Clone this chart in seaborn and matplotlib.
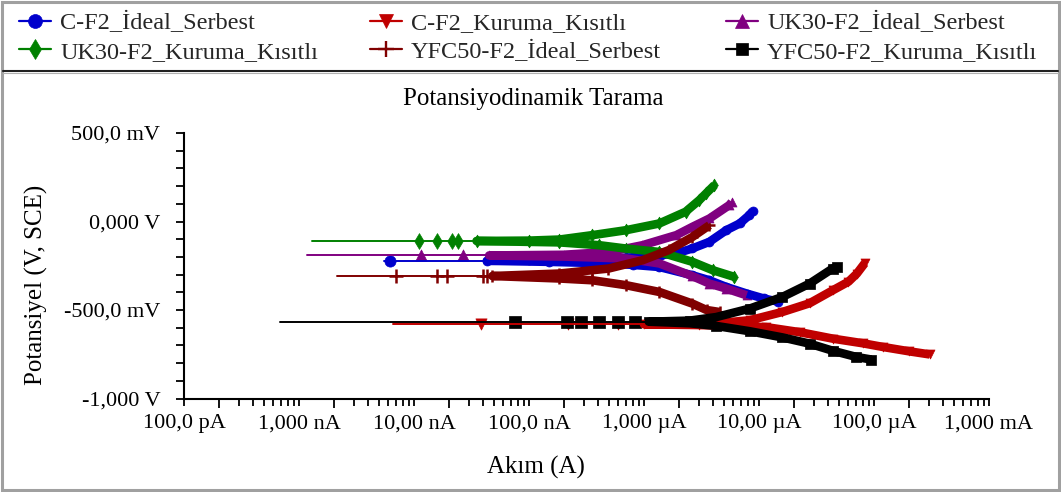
import matplotlib
matplotlib.use("Agg")
import matplotlib.pyplot as plt
import seaborn as sns
import pandas as pd
from matplotlib.ticker import FixedLocator, FuncFormatter, NullFormatter
from matplotlib.lines import Line2D
from matplotlib.patches import Rectangle

sns.set_theme(style="white")
plt.rcParams['font.family'] = ['Liberation Serif', 'DejaVu Serif']

# ---------------- data ----------------
series_names = ["C-F2_İdeal_Serbest", "C-F2_Kuruma_Kısıtlı", "UK30-F2_İdeal_Serbest",
                "UK30-F2_Kuruma_Kısıtlı", "YFC50-F2_İdeal_Serbest", "YFC50-F2_Kuruma_Kısıtlı"]
series_colors = ["#0000CC", "#C00000", "#800080", "#008000", "#800000", "#000000"]
series_markers = ["o", "v", "^", "d", "+", "s"]

# C-F2_İdeal_Serbest (blue)
cf2_is_ecorr = -0.222
cf2_is_tail_I = [5.5e-9, 6.2e-9]
cf2_is_cat_I = [4.3e-8, 1.5e-7, 4.0e-7, 8.0e-7, 1.36e-6, 2.64e-6, 3.7e-6, 5.2e-6, 7.8e-6, 1.1e-5, 1.45e-5]
cf2_is_cat_E = [-0.222, -0.228, -0.235, -0.245, -0.257, -0.304, -0.332, -0.370, -0.407, -0.435, -0.452]
cf2_is_an_I = [4.3e-8, 1.0e-7, 2.5e-7, 5.0e-7, 9.0e-7, 1.4e-6, 1.9e-6, 2.64e-6, 3.7e-6, 5.2e-6, 6.8e-6, 8.2e-6, 8.8e-6]
cf2_is_an_E = [-0.222, -0.220, -0.216, -0.210, -0.200, -0.190, -0.181, -0.152, -0.115, -0.049, -0.011, 0.035, 0.058]

# C-F2_Kuruma_Kısıtlı (red)
cf2_kk_ecorr = -0.581
cf2_kk_tail_I = [6.6e-9, 3.8e-8, 2.2e-7, 6.0e-7]
cf2_kk_cat_I = [1.0e-6, 3.0e-6, 6.0e-6, 1.16e-5, 2.25e-5, 4.4e-5, 8.0e-5, 1.2e-4, 2.0e-4, 3.05e-4]
cf2_kk_cat_E = [-0.581, -0.585, -0.590, -0.597, -0.625, -0.662, -0.688, -0.709, -0.733, -0.751]
cf2_kk_an_I = [1.0e-6, 3.0e-6, 5.2e-6, 8.3e-6, 1.6e-5, 2.75e-5, 4.4e-5, 6.0e-5, 7.1e-5, 8.3e-5]
cf2_kk_an_E = [-0.581, -0.578, -0.570, -0.558, -0.511, -0.462, -0.388, -0.340, -0.294, -0.236]

# UK30-F2_İdeal_Serbest (purple)
uk_is_ecorr = -0.192
uk_is_tail_I = [1.18e-9, 1.16e-8, 2.68e-8]
uk_is_cat_I = [4.5e-8, 2.0e-7, 7.0e-7, 1.36e-6, 2.64e-6, 3.71e-6, 5.2e-6, 7.8e-6]
uk_is_cat_E = [-0.192, -0.198, -0.209, -0.237, -0.309, -0.351, -0.379, -0.417]
uk_is_an_I = [4.5e-8, 2.0e-7, 5.0e-7, 9.7e-7, 1.91e-6, 2.64e-6, 3.71e-6, 5.53e-6, 5.8e-6]
uk_is_an_E = [-0.192, -0.188, -0.172, -0.134, -0.077, -0.030, 0.017, 0.093, 0.110]

# UK30-F2_Kuruma_Kısıtlı (green)
uk_kk_ecorr = -0.110
uk_kk_tail_I = [1.3e-9, 1.11e-8, 1.59e-8, 2.15e-8, 2.43e-8]
uk_kk_cat_I = [3.5e-8, 1.84e-7, 4.09e-7, 7.0e-7, 1.36e-6, 2.64e-6, 3.96e-6, 6.1e-6]
uk_kk_cat_E = [-0.110, -0.118, -0.134, -0.153, -0.172, -0.228, -0.275, -0.313]
uk_kk_an_I = [3.5e-8, 1.0e-7, 1.84e-7, 3.56e-7, 7.0e-7, 1.36e-6, 2.3e-6, 3.03e-6, 3.47e-6, 4.1e-6]
uk_kk_an_E = [-0.110, -0.108, -0.102, -0.077, -0.049, -0.011, 0.055, 0.121, 0.159, 0.206]

# YFC50-F2_İdeal_Serbest (maroon)
yfc_is_ecorr = -0.308
yfc_is_tail_I = [2.15e-9, 7.0e-9, 1.59e-8, 1.95e-8, 4.0e-8, 4.34e-8]
yfc_is_cat_I = [4.8e-8, 1.84e-7, 3.56e-7, 7.0e-7, 1.36e-6, 2.64e-6, 3.5e-6, 4.6e-6]
yfc_is_cat_E = [-0.308, -0.322, -0.332, -0.360, -0.398, -0.464, -0.500, -0.512]
yfc_is_an_I = [4.8e-8, 1.84e-7, 3.56e-7, 4.9e-7, 9.7e-7, 1.64e-6, 2.64e-6, 3.71e-6]
yfc_is_an_E = [-0.308, -0.294, -0.275, -0.266, -0.219, -0.162, -0.087, -0.021]

# YFC50-F2_Kuruma_Kısıtlı (black)
yfc_kk_ecorr = -0.566
yfc_kk_tail_I = [6.85e-10, 7.6e-8, 2.16e-7, 2.85e-7, 4.1e-7, 6.0e-7, 8.4e-7]
yfc_kk_cat_I = [1.1e-6, 2.5e-6, 4.24e-6, 8.3e-6, 1.6e-5, 2.75e-5, 4.36e-5, 7.0e-5, 9.5e-5]
yfc_kk_cat_E = [-0.566, -0.575, -0.590, -0.620, -0.655, -0.690, -0.730, -0.765, -0.780]
yfc_kk_an_I = [1.1e-6, 2.5e-6, 4.24e-6, 8.3e-6, 1.6e-5, 2.75e-5, 4.36e-5, 4.75e-5]
yfc_kk_an_E = [-0.566, -0.560, -0.540, -0.492, -0.426, -0.351, -0.266, -0.257]

x_tick_values = [1e-10, 1e-9, 1e-8, 1e-7, 1e-6, 1e-5, 1e-4, 1e-3]
x_tick_labels = ["100,0 pA", "1,000 nA", "10,00 nA", "100,0 nA",
                 "1,000 µA", "10,00 µA", "100,0 µA", "1,000 mA"]
y_tick_values = [-1.0, -0.5, 0.0, 0.5]
y_tick_labels = ["-1,000 V", "-500,0 mV", "0,000 V", "500,0 mV"]

title_text = "Potansiyodinamik Tarama"
x_label = "Akım (A)"
y_label = "Potansiyel (V, SCE)"

series_data = [
    (cf2_is_ecorr, cf2_is_tail_I, cf2_is_cat_I, cf2_is_cat_E, cf2_is_an_I, cf2_is_an_E),
    (cf2_kk_ecorr, cf2_kk_tail_I, cf2_kk_cat_I, cf2_kk_cat_E, cf2_kk_an_I, cf2_kk_an_E),
    (uk_is_ecorr, uk_is_tail_I, uk_is_cat_I, uk_is_cat_E, uk_is_an_I, uk_is_an_E),
    (uk_kk_ecorr, uk_kk_tail_I, uk_kk_cat_I, uk_kk_cat_E, uk_kk_an_I, uk_kk_an_E),
    (yfc_is_ecorr, yfc_is_tail_I, yfc_is_cat_I, yfc_is_cat_E, yfc_is_an_I, yfc_is_an_E),
    (yfc_kk_ecorr, yfc_kk_tail_I, yfc_kk_cat_I, yfc_kk_cat_E, yfc_kk_an_I, yfc_kk_an_E),
]

# ---------------- figure ----------------
W, H = 1061, 492
fig = plt.figure(figsize=(W / 100, H / 100), dpi=100)
fig.patch.set_facecolor("white")

ax_l, ax_r, ax_t, ax_b = 184, 989, 133, 398.5
ax = fig.add_axes([ax_l / W, 1 - ax_b / H, (ax_r - ax_l) / W, (ax_b - ax_t) / H])
ax.set_facecolor("white")
ax.set_xscale("log")

for name, color, marker, (ecorr, tail_I, cat_I, cat_E, an_I, an_E) in zip(
        series_names, series_colors, series_markers, series_data):
    tail_df = pd.DataFrame({"I": [tail_I[0], cat_I[0]], "E": [ecorr, ecorr]})
    branch_df = pd.DataFrame({"I": list(cat_I[::-1]) + list(an_I[1:]),
                              "E": list(cat_E[::-1]) + list(an_E[1:])})
    tail_mk = pd.DataFrame({"I": list(tail_I[1:]), "E": [ecorr] * (len(tail_I) - 1)})
    sns.lineplot(data=tail_df, x="I", y="E", sort=False, estimator=None,
                 color=color, lw=1.4, ax=ax)
    sns.lineplot(data=branch_df, x="I", y="E", sort=False, estimator=None,
                 color=color, lw=6.2, ax=ax, solid_capstyle="butt")
    if marker == "+":
        sns.scatterplot(data=tail_mk, x="I", y="E", marker=marker, color=color,
                        s=110, linewidth=1.8, ax=ax)
        sns.scatterplot(data=branch_df, x="I", y="E", marker=marker, color=color,
                        s=80, linewidth=1.8, ax=ax)
    else:
        sns.scatterplot(data=tail_mk, x="I", y="E", marker=marker, color=color,
                        s=65, linewidth=0.5, edgecolor=color, ax=ax)
        sns.scatterplot(data=branch_df, x="I", y="E", marker=marker, color=color,
                        s=42, linewidth=0.5, edgecolor=color, ax=ax)

ax.set_xlim(1e-10, 1e-3)
ax.set_ylim(-1.0, 0.5)
ax.set_xlabel("")
ax.set_ylabel("")

# x axis ticks: long ticks at 2x10^n, short ticks elsewhere, labels at decades
x_long = [2 * v for v in x_tick_values[:-1]]
x_short = []
for v in x_tick_values:
    x_short.append(v)
    if v < 1e-3:
        x_short.extend([k * v for k in range(3, 10)])
label_map = dict(zip(x_tick_values, x_tick_labels))

def fmt(val, pos):
    for k, lab in label_map.items():
        if abs(val / k - 1) < 1e-6:
            return lab
    return ""

ax.xaxis.set_major_locator(FixedLocator(x_long))
ax.xaxis.set_major_formatter(NullFormatter())
ax.xaxis.set_minor_locator(FixedLocator(x_short))
ax.xaxis.set_minor_formatter(FuncFormatter(fmt))
ax.tick_params(axis="x", which="major", direction="out", length=6.5, width=1.3,
               color="black", bottom=True)
ax.tick_params(axis="x", which="minor", direction="out", length=5, width=1.3,
               color="black", bottom=True, labelsize=16, pad=6.5, labelcolor="black")

ax.yaxis.set_major_locator(FixedLocator(y_tick_values))
ax.set_yticklabels(y_tick_labels)
ax.yaxis.set_minor_locator(FixedLocator([round(-1.0 + 0.1 * i, 1) for i in range(16)]))
ax.tick_params(axis="y", which="both", direction="out", length=6, width=1.3,
               color="black", left=True)
ax.tick_params(axis="y", which="major", labelsize=16, pad=11, labelcolor="black")

for side in ["top", "right"]:
    ax.spines[side].set_visible(False)
for side in ["left", "bottom"]:
    ax.spines[side].set_color("black")
    ax.spines[side].set_linewidth(1.5)

# texts
fig.text(533 / W, 1 - 99 / H, title_text, ha="center", va="center", fontsize=18, color="black")
fig.text(536 / W, 1 - 467 / H, x_label, ha="center", va="center", fontsize=18, color="black")
fig.text(36 / W, 1 - 285 / H, y_label, ha="center", va="center", rotation=90,
         fontsize=18, color="black")

# legend (3 columns x 2 rows)
legend_msize = {"o": 10, "v": 10, "^": 10, "d": 10.5, "+": 12, "s": 9}
handles = []
for color, marker in zip(series_colors, series_markers):
    handles.append(Line2D([], [], color=color, lw=1.6, marker=marker,
                          markersize=legend_msize[marker],
                          markerfacecolor=color, markeredgecolor=color,
                          markeredgewidth=1.7 if marker == "+" else 0.5))
col_groups = [[0, 3], [1, 4], [2, 5]]
col_x = [19, 370, 726]
for grp, xpx in zip(col_groups, col_x):
    fig.legend(handles=[handles[i] for i in grp],
               labels=[series_names[i] for i in grp],
               loc="upper left", bbox_to_anchor=(xpx / W, 1 - 12 / H),
               frameon=False, fontsize=17.5, handlelength=1.32, handletextpad=0.37,
               labelspacing=0.27, borderpad=0, borderaxespad=0)

# separator line & frame
fig.add_artist(Line2D([3 / W, 1 - 3 / W], [1 - 70.5 / H, 1 - 70.5 / H],
                      transform=fig.transFigure, color="#202020", lw=1.5))
fig.add_artist(Line2D([3 / W, 1 - 3 / W], [1 - 73 / H, 1 - 73 / H],
                      transform=fig.transFigure, color="#b0b0b0", lw=0.8))
fig.add_artist(Rectangle((1.5 / W, 2 / H), 1 - 3.5 / W, 1 - 3.5 / H,
                         transform=fig.transFigure, fill=False,
                         edgecolor="#a0a0a0", lw=2.2))

fig.savefig("out.png", dpi=100, facecolor="white")
